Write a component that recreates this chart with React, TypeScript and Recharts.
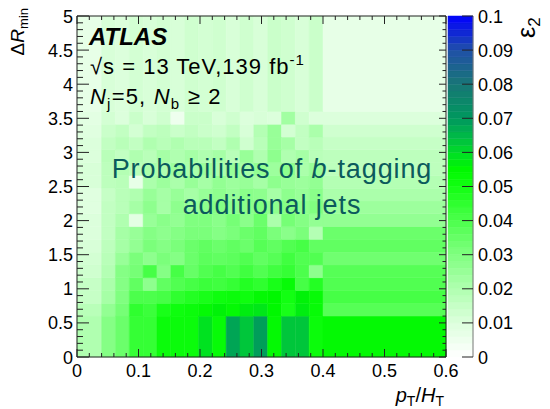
import React from "react";
import { ScatterChart, XAxis, YAxis, ReferenceArea, Scatter } from "recharts";

// bin edges (pT/HT and dRmin)
const X_EDGES = [0, 0.04, 0.0625, 0.085, 0.1075, 0.13, 0.1525, 0.175, 0.1975, 0.22, 0.2425, 0.265, 0.2875, 0.31, 0.3325, 0.355, 0.3775, 0.4, 0.6];
const Y_EDGES = [0, 0.6, 0.7875, 0.975, 1.1625, 1.35, 1.5375, 1.725, 1.9125, 2.1, 2.2875, 2.475, 2.6625, 2.85, 3.0375, 3.225, 3.4125, 3.6, 5];

// epsilon_2 per row, bottom (dR 0-0.6) to top (dR 3.6-5)
const r00 = [0.020, 0.029, 0.034, 0.044, 0.044, 0.052, 0.052, 0.052, 0.059, 0.053, 0.068, 0.063, 0.069, 0.054, 0.063, 0.063, 0.052, 0.054];
const r01 = [0.018, 0.026, 0.032, 0.045, 0.043, 0.049, 0.051, 0.052, 0.054, 0.056, 0.054, 0.057, 0.058, 0.055, 0.049, 0.057, 0.053, 0.038];
const r02 = [0.015, 0.022, 0.030, 0.040, 0.040, 0.041, 0.045, 0.047, 0.049, 0.051, 0.052, 0.051, 0.054, 0.055, 0.050, 0.056, 0.053, 0.041];
const r03 = [0.015, 0.021, 0.029, 0.036, 0.027, 0.036, 0.039, 0.041, 0.043, 0.042, 0.044, 0.047, 0.045, 0.049, 0.053, 0.041, 0.047, 0.039];
const r04 = [0.013, 0.019, 0.029, 0.032, 0.041, 0.029, 0.041, 0.035, 0.039, 0.041, 0.039, 0.042, 0.039, 0.042, 0.044, 0.040, 0.027, 0.038];
const r05 = [0.012, 0.018, 0.025, 0.031, 0.027, 0.031, 0.029, 0.034, 0.037, 0.036, 0.037, 0.039, 0.036, 0.038, 0.042, 0.039, 0.039, 0.033];
const r06 = [0.011, 0.017, 0.022, 0.026, 0.031, 0.029, 0.031, 0.034, 0.036, 0.034, 0.036, 0.034, 0.038, 0.036, 0.039, 0.041, 0.036, 0.036];
const r07 = [0.010, 0.016, 0.022, 0.025, 0.029, 0.027, 0.029, 0.031, 0.031, 0.029, 0.031, 0.034, 0.036, 0.031, 0.028, 0.031, 0.019, 0.034];
const r08 = [0.010, 0.016, 0.020, 0.008, 0.025, 0.028, 0.026, 0.030, 0.030, 0.028, 0.032, 0.028, 0.034, 0.021, 0.032, 0.029, 0.026, 0.026];
const r09 = [0.009, 0.016, 0.018, 0.022, 0.027, 0.022, 0.027, 0.025, 0.027, 0.029, 0.027, 0.028, 0.030, 0.027, 0.029, 0.027, 0.030, 0.024];
const r10 = [0.009, 0.015, 0.018, 0.020, 0.025, 0.022, 0.025, 0.022, 0.025, 0.027, 0.025, 0.028, 0.027, 0.022, 0.027, 0.025, 0.028, 0.021];
const r11 = [0.011, 0.017, 0.018, 0.007, 0.021, 0.024, 0.021, 0.025, 0.022, 0.026, 0.024, 0.025, 0.022, 0.027, 0.025, 0.024, 0.026, 0.019];
const r12 = [0.011, 0.017, 0.019, 0.018, 0.021, 0.020, 0.024, 0.021, 0.024, 0.021, 0.025, 0.022, 0.026, 0.024, 0.027, 0.021, 0.025, 0.017];
const r13 = [0.010, 0.018, 0.016, 0.020, 0.018, 0.022, 0.020, 0.022, 0.020, 0.022, 0.018, 0.025, 0.020, 0.027, 0.020, 0.022, 0.018, 0.017];
const r14 = [0.010, 0.016, 0.018, 0.016, 0.020, 0.018, 0.020, 0.018, 0.018, 0.016, 0.020, 0.013, 0.018, 0.025, 0.022, 0.016, 0.018, 0.015];
const r15 = [0.009, 0.014, 0.016, 0.012, 0.016, 0.017, 0.014, 0.016, 0.014, 0.013, 0.016, 0.011, 0.019, 0.025, 0.012, 0.016, 0.021, 0.013];
const r16 = [0.008, 0.012, 0.010, 0.014, 0.011, 0.013, 0.005, 0.014, 0.014, 0.011, 0.013, 0.010, 0.011, 0.010, 0.023, 0.013, 0.010, 0.010];
const r17 = [0.007, 0.011, 0.010, 0.012, 0.011, 0.012, 0.011, 0.013, 0.012, 0.013, 0.011, 0.013, 0.011, 0.014, 0.013, 0.011, 0.014, 0.007];
const EFF = [r00, r01, r02, r03, r04, r05, r06, r07, r08, r09, r10, r11, r12, r13, r14, r15, r16, r17];

const X_LABELS = ["0", "0.1", "0.2", "0.3", "0.4", "0.5", "0.6"];
const Y_LABELS = ["0", "0.5", "1", "1.5", "2", "2.5", "3", "3.5", "4", "4.5", "5"];
const Z_LABELS = ["0", "0.01", "0.02", "0.03", "0.04", "0.05", "0.06", "0.07", "0.08", "0.09", "0.1"];

// palette (white -> green -> teal -> blue)
const STOPS: [number, string][] = [
  [0, "#ffffff"],
  [0.01, "#dcffdc"],
  [0.02, "#b0ffb0"],
  [0.03, "#80ff80"],
  [0.04, "#4cff4c"],
  [0.05, "#12ff12"],
  [0.055, "#00f800"],
  [0.06, "#00dc28"],
  [0.065, "#00b848"],
  [0.07, "#00985e"],
  [0.08, "#187676"],
  [0.09, "#2050a8"],
  [0.1, "#0000ff"],
];

const FONT = "'Liberation Sans', Arial, Helvetica, sans-serif";
const AXIS = "#222";

function hex(c: string) {
  return [1, 3, 5].map((i) => parseInt(c.slice(i, i + 2), 16));
}

function effColor(v: number) {
  if (v <= 0) return STOPS[0][1];
  for (let i = 1; i < STOPS.length; i++) {
    if (v <= STOPS[i][0]) {
      const [v0, c0] = STOPS[i - 1];
      const [v1, c1] = STOPS[i];
      const t = (v - v0) / (v1 - v0);
      const a = hex(c0);
      const b = hex(c1);
      const m = a.map((x, k) => Math.round(x + (b[k] - x) * t));
      return `rgb(${m[0]},${m[1]},${m[2]})`;
    }
  }
  return STOPS[STOPS.length - 1][1];
}

const cells = EFF.flatMap((row, i) =>
  row.map((v, j) => ({
    x1: X_EDGES[j],
    x2: X_EDGES[j + 1],
    y1: Y_EDGES[i],
    y2: Y_EDGES[i + 1],
    xc: (X_EDGES[j] + X_EDGES[j + 1]) / 2,
    yc: (Y_EDGES[i] + Y_EDGES[i + 1]) / 2,
    v,
  }))
);

// colour bar bands (palette steps)
const Z_BANDS = Array.from({ length: 50 }, (_, i) => ({ x: 0.5, y: i * 0.002 + 0.001 }));

const X_TICKS = Array.from({ length: 31 }, (_, i) => +(i * 0.02).toFixed(2));
const Y_TICKS = Array.from({ length: 51 }, (_, i) => +(i * 0.1).toFixed(1));
const Z_TICKS = Z_LABELS.map(Number);

const majorIdx = (v: number, step: number) => {
  const k = v / step;
  return Math.abs(k - Math.round(k)) < 1e-6 ? Math.round(k) : -1;
};

// ROOT-style ticks pointing into the frame
const BottomTick = (p: any) => {
  const k = majorIdx(p.payload.value, 0.1);
  return (
    <g>
      <line x1={p.x} x2={p.x} y1={p.y} y2={p.y - (k >= 0 ? 8 : 4)} stroke={AXIS} />
      {k >= 0 && (
        <text x={p.x} y={p.y + 20} textAnchor="middle" fontSize={18} fontFamily={FONT} fill="#000">
          {X_LABELS[k]}
        </text>
      )}
    </g>
  );
};

const TopTick = (p: any) => {
  const k = majorIdx(p.payload.value, 0.1);
  return <line x1={p.x} x2={p.x} y1={p.y} y2={p.y + (k >= 0 ? 8 : 4)} stroke={AXIS} />;
};

const LeftTick = (p: any) => {
  const k = majorIdx(p.payload.value, 0.5);
  return (
    <g>
      <line x1={p.x} x2={p.x + (k >= 0 ? 12 : 6)} y1={p.y} y2={p.y} stroke={AXIS} />
      {k >= 0 && (
        <text x={p.x - 4} y={p.y + 6.5} textAnchor="end" fontSize={18} fontFamily={FONT} fill="#000">
          {Y_LABELS[k]}
        </text>
      )}
    </g>
  );
};

const RightTick = (p: any) => {
  const k = majorIdx(p.payload.value, 0.5);
  return <line x1={p.x} x2={p.x - (k >= 0 ? 7 : 3.5)} y1={p.y} y2={p.y} stroke={AXIS} />;
};

const ZTick = (p: any) => {
  const k = Math.round(p.payload.value / 0.01);
  return (
    <g>
      <line x1={p.x} x2={p.x - 11} y1={p.y} y2={p.y} stroke={AXIS} />
      <text x={p.x + 5} y={p.y + 6.5} textAnchor="start" fontSize={18} fontFamily={FONT} fill="#000">
        {Z_LABELS[k]}
      </text>
    </g>
  );
};

const layer: React.CSSProperties = { position: "absolute", left: 0, top: 0 };

export default function App() {
  return (
    <div style={{ position: "absolute", left: 0, top: 0, width: 550, height: 409, background: "#fff" }}>
      {/* heat map cells */}
      <div style={layer}>
        <ScatterChart width={550} height={409} margin={{ top: 16, right: 104, bottom: 52, left: 77 }}>
          {cells.map((c, i) => (
            <ReferenceArea
              key={i}
              x1={c.x1}
              x2={c.x2}
              y1={c.y1}
              y2={c.y2}
              fill={effColor(c.v)}
              fillOpacity={1}
              stroke={effColor(c.v)}
              strokeWidth={0.5}
              ifOverflow="visible"
            />
          ))}
          <XAxis type="number" dataKey="xc" domain={[0, 0.6]} hide allowDataOverflow />
          <YAxis type="number" dataKey="yc" domain={[0, 5]} hide allowDataOverflow />
          <Scatter data={cells} isAnimationActive={false} shape={() => <g />} />
        </ScatterChart>
      </div>

      {/* frame, ticks and labels on top of the cells */}
      <div style={layer}>
        <ScatterChart width={550} height={409} margin={{ top: 15, right: 103, bottom: 51, left: 0 }}>
          <XAxis
            type="number"
            dataKey="xc"
            domain={[0, 0.6]}
            ticks={X_TICKS}
            interval={0}
            height={1}
            tickSize={0}
            tickMargin={0}
            tickLine={false}
            tick={<BottomTick />}
            axisLine={{ stroke: AXIS }}
            allowDataOverflow
          />
          <XAxis
            xAxisId="top"
            orientation="top"
            type="number"
            dataKey="xc"
            domain={[0, 0.6]}
            ticks={X_TICKS}
            interval={0}
            height={1}
            tickSize={0}
            tickMargin={0}
            tickLine={false}
            tick={<TopTick />}
            axisLine={{ stroke: AXIS }}
            allowDataOverflow
          />
          <YAxis
            type="number"
            dataKey="yc"
            domain={[0, 5]}
            ticks={Y_TICKS}
            interval={0}
            width={77}
            tickSize={0}
            tickMargin={0}
            tickLine={false}
            tick={<LeftTick />}
            axisLine={{ stroke: AXIS }}
            allowDataOverflow
          />
          <YAxis
            yAxisId="right"
            orientation="right"
            type="number"
            dataKey="yc"
            domain={[0, 5]}
            ticks={Y_TICKS}
            interval={0}
            width={1}
            tickSize={0}
            tickMargin={0}
            tickLine={false}
            tick={<RightTick />}
            axisLine={{ stroke: AXIS }}
            allowDataOverflow
          />
          <Scatter data={cells} isAnimationActive={false} shape={() => <g />} />
        </ScatterChart>
      </div>

      {/* colour bar */}
      <div style={{ ...layer, left: 440 }}>
        <ScatterChart width={110} height={409} margin={{ top: 16, right: 77, bottom: 52, left: 8 }}>
          {Z_BANDS.map((b) => (
            <ReferenceArea
              key={b.y}
              x1={0}
              x2={1}
              y1={b.y - 0.001}
              y2={b.y + 0.001}
              fill={effColor(b.y)}
              fillOpacity={1}
              stroke={effColor(b.y)}
              strokeWidth={0.5}
              ifOverflow="visible"
            />
          ))}
          <XAxis type="number" dataKey="x" domain={[0, 1]} hide />
          <YAxis type="number" dataKey="y" domain={[0, 0.1]} hide allowDataOverflow />
          <Scatter data={Z_BANDS} isAnimationActive={false} shape={() => <g />} />
        </ScatterChart>
      </div>
      <div style={{ ...layer, left: 440 }}>
        <ScatterChart width={110} height={409} margin={{ top: 16, right: 0, bottom: 51, left: 8 }}>
          <XAxis type="number" dataKey="x" domain={[0, 1]} height={1} tick={false} tickLine={false} axisLine={false} />
          <YAxis
            orientation="right"
            type="number"
            dataKey="y"
            domain={[0, 0.1]}
            ticks={Z_TICKS}
            interval={0}
            width={77}
            tickSize={0}
            tickMargin={0}
            tickLine={false}
            tick={<ZTick />}
            axisLine={{ stroke: "#777" }}
            allowDataOverflow
          />
          <Scatter data={Z_BANDS} isAnimationActive={false} shape={() => <g />} />
        </ScatterChart>
      </div>

      <svg width={550} height={409} style={{ ...layer, pointerEvents: "none" }} fontFamily={FONT}>
        <text x={89} y={45} fontSize={24} fontWeight="bold" fontStyle="italic" fill="#000">ATLAS</text>
        <text x={90} y={74} fontSize={22} letterSpacing={1} fill="#000">
          √s = 13 TeV,139 fb<tspan fontSize={15} dy={-9}>-1</tspan>
        </text>
        <text x={90} y={104} fontSize={22} letterSpacing={1.2} fill="#000">
          <tspan fontStyle="italic">N</tspan>
          <tspan fontSize={15} dy={5}>j</tspan>
          <tspan dy={-5}>=5, </tspan>
          <tspan fontStyle="italic">N</tspan>
          <tspan fontSize={15} dy={5}>b</tspan>
          <tspan dy={-5}> ≥ 2</tspan>
        </text>
        <text x={272} y={178} fontSize={27} letterSpacing={0.9} textAnchor="middle" fill="#0b5a5c">
          Probabilities of <tspan fontStyle="italic">b</tspan>-tagging
        </text>
        <text x={272} y={214} fontSize={27} letterSpacing={0.9} textAnchor="middle" fill="#0b5a5c">
          additional jets
        </text>
        <text x={444} y={402} fontSize={20} textAnchor="end" fill="#000">
          <tspan fontStyle="italic">p</tspan>
          <tspan fontSize={14} dy={4}>T</tspan>
          <tspan dy={-4}>/</tspan>
          <tspan fontStyle="italic">H</tspan>
          <tspan fontSize={14} dy={4}>T</tspan>
        </text>
        <text transform="translate(24,8) rotate(-90)" fontSize={19} textAnchor="end" fill="#000">
          Δ<tspan fontStyle="italic">R</tspan>
          <tspan fontSize={13} dy={4}>min</tspan>
        </text>
        <text transform="translate(535,38) rotate(-90)" fontSize={25} textAnchor="start" fill="#000">
          ε<tspan fontSize={17} dy={5}>2</tspan>
        </text>
      </svg>
    </div>
  );
}
